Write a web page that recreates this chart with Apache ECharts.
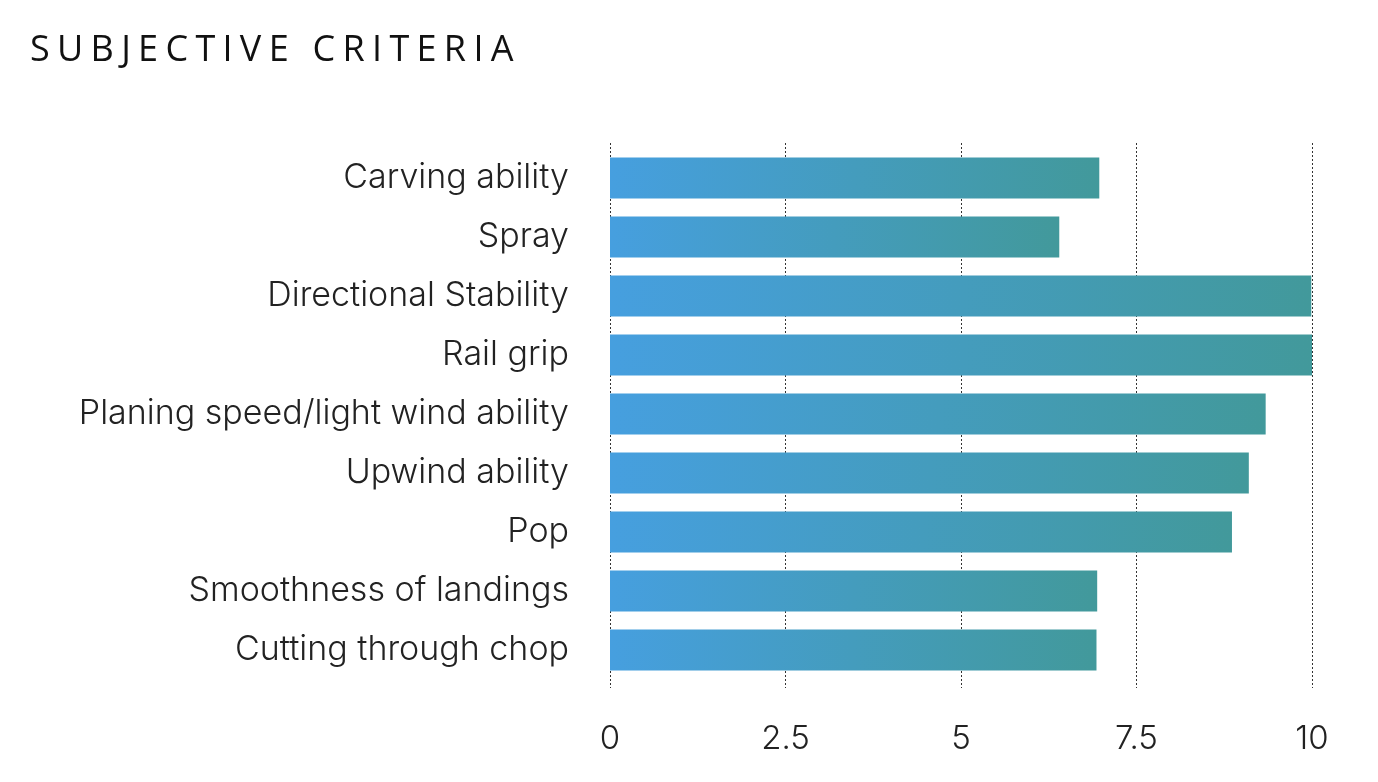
<!DOCTYPE html>
<html>
<head>
<meta charset="utf-8">
<script src="https://cdn.jsdelivr.net/npm/echarts@6/dist/echarts.min.js"></script>
<style>
  html, body { margin: 0; padding: 0; background: #ffffff; }
  #wrap { position: relative; width: 1378px; height: 782px; }
  #title { position: absolute; left: 30px; top: 23px; margin: 0; font-family: "Open Sans", sans-serif; font-weight: 500; font-size: 36px; letter-spacing: 7.3px; color: #111; line-height: 50px; white-space: nowrap; }
  #chart { position: absolute; left: 0; top: 0; width: 1378px; height: 782px; }
</style>
</head>
<body>
<div id="wrap">
  <div id="chart"></div>
  <h1 id="title">SUBJECTIVE CRITERIA</h1>
</div>
<script>
const categories = [
  "Carving ability",
  "Spray",
  "Directional Stability",
  "Rail grip",
  "Planing speed/light wind ability",
  "Upwind ability",
  "Pop",
  "Smoothness of landings",
  "Cutting through chop"
];
const scores = [6.97, 6.40, 9.99, 10.0, 9.34, 9.10, 8.86, 6.94, 6.93];
const tickValues = [0, 2.5, 5, 7.5, 10];

const chart = echarts.init(document.getElementById('chart'), null, { renderer: 'canvas' });
const labelFont = 'Inter, Roboto, sans-serif';
chart.setOption({
  animation: false,
  grid: [
    { left: 610, right: 66, top: 148.5, height: 531 },
    { left: 610, right: 66, top: 143, bottom: 94 }
  ],
  xAxis: [
    {
      gridIndex: 0, type: 'value', min: tickValues[0], max: tickValues[tickValues.length - 1], interval: 2.5,
      axisLine: { show: false }, axisTick: { show: false }, axisLabel: { show: false }, splitLine: { show: false }
    },
    {
      gridIndex: 1, type: 'value', min: tickValues[0], max: tickValues[tickValues.length - 1], interval: 2.5,
      axisLine: { show: false }, axisTick: { show: false },
      axisLabel: { color: '#222', fontFamily: labelFont, fontWeight: 300, fontSize: 33, margin: 35 },
      splitLine: { show: true, lineStyle: { color: '#333', type: [2, 2], width: 1 } }
    }
  ],
  yAxis: [
    {
      gridIndex: 0, type: 'category', data: categories, inverse: true,
      axisLine: { show: false }, axisTick: { show: false },
      axisLabel: { color: '#222', fontFamily: labelFont, fontWeight: 300, fontSize: 34, margin: 41 }
    },
    {
      gridIndex: 1, type: 'value', show: false
    }
  ],
  series: [{
    type: 'bar',
    xAxisIndex: 0, yAxisIndex: 0,
    data: scores,
    barWidth: 41,
    z: 3,
    itemStyle: {
      color: new echarts.graphic.LinearGradient(0, 0, 1, 0, [
        { offset: 0, color: '#469fdf' },
        { offset: 1, color: '#42999b' }
      ])
    }
  }]
});
</script>
</body>
</html>
